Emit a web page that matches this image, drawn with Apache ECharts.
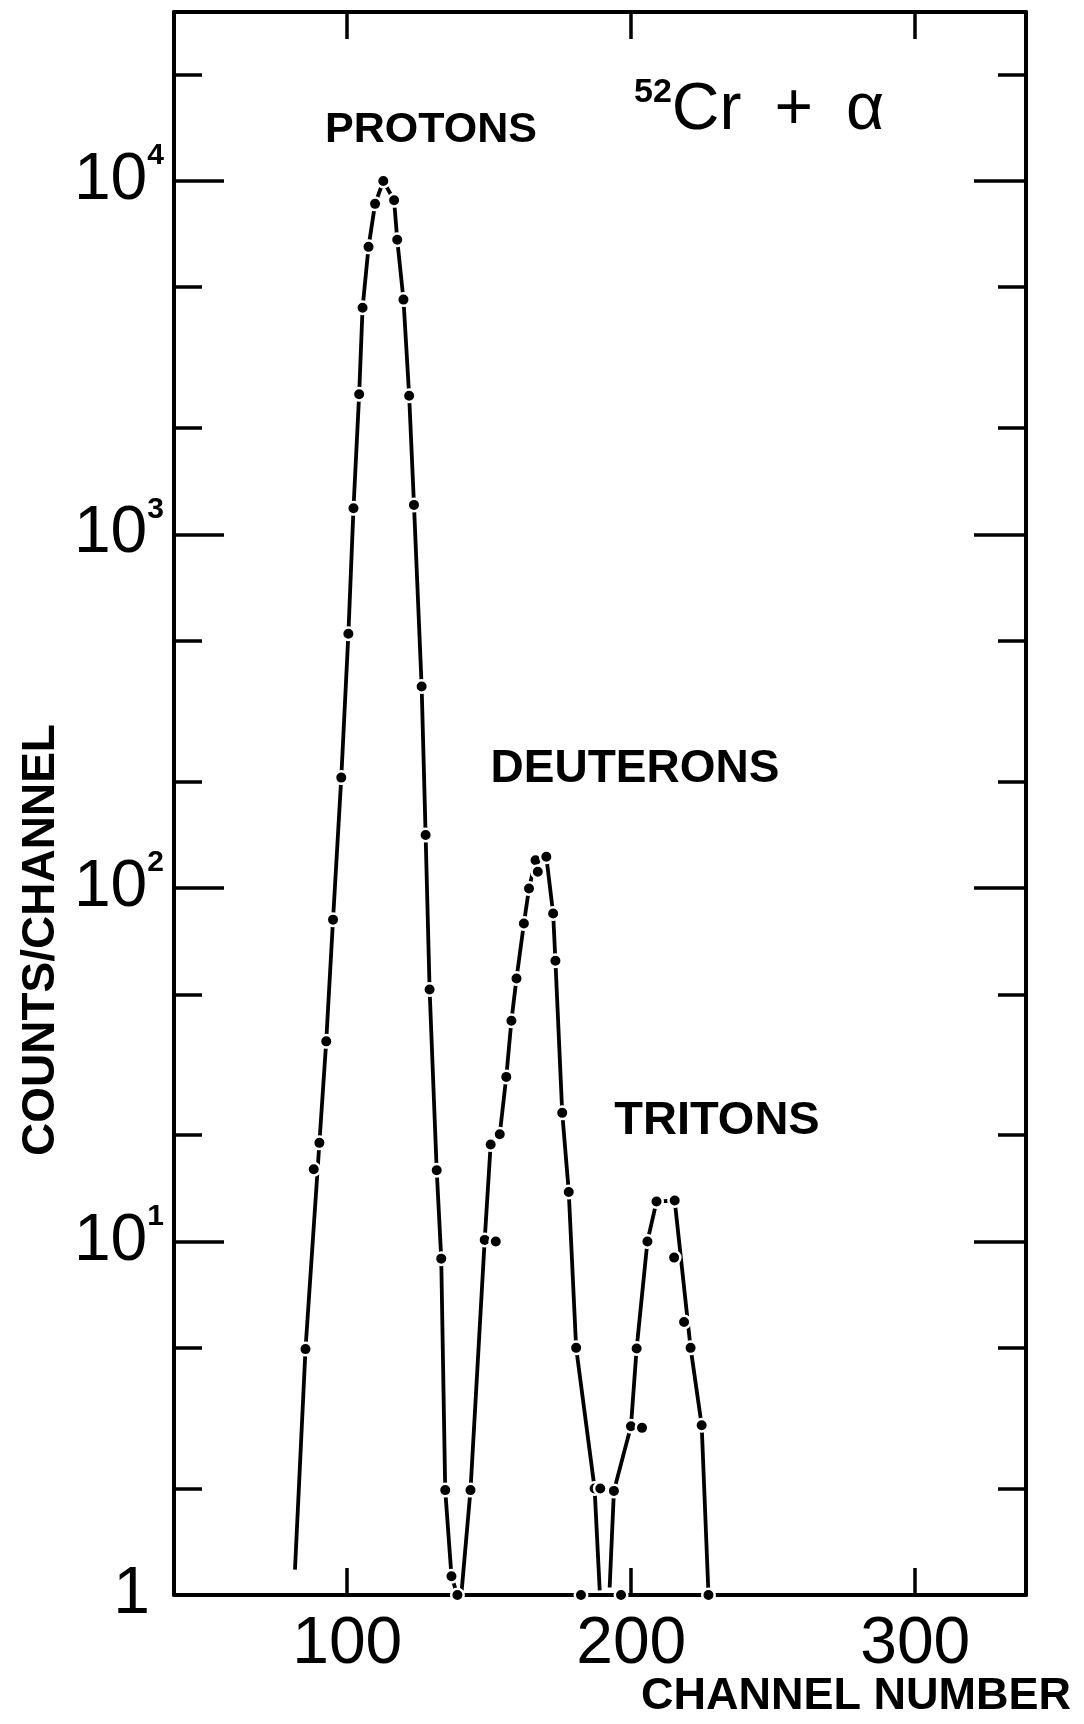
<!DOCTYPE html>
<html><head><meta charset="utf-8">
<script src="https://cdn.jsdelivr.net/npm/echarts@6/dist/echarts.min.js"></script>
<style>html,body{margin:0;padding:0;background:#fff}#c{width:1084px;height:1724px}</style>
</head><body><div id="c"></div>
<script>
// ---- data ----
const protonChannel = [81.6, 85.3, 90.2, 92.6, 95.0, 97.9, 100.4, 102.2, 104.2, 105.4, 107.5, 109.8, 112.7, 116.5, 117.6, 119.8, 121.8, 123.5, 126.2, 127.6, 129.0, 131.5, 133.1, 134.5, 136.7, 138.8];
const protonCounts  = [1.18, 4.96, 19.0, 36.8, 81.3, 205, 523, 1184, 2490, 4370, 6500, 8600, 9980, 8800, 6810, 4610, 2465, 1211, 371, 141, 51.6, 15.9, 8.94, 1.98, 1.13, 1.0];
const protonDotted  = [0, 1, 1, 1, 1, 1, 1, 1, 1, 1, 1, 1, 1, 1, 1, 1, 1, 1, 1, 1, 1, 1, 1, 1, 1, 1];

const deuteronChannel = [140.3, 143.4, 148.4, 150.5, 153.7, 156.0, 157.8, 159.6, 162.2, 164.0, 166.3, 170.1, 172.5, 173.3, 175.7, 178.0, 180.6, 187.1, 188.9];
const deuteronCounts  = [1.03, 1.98, 10.1, 18.8, 20.1, 29.2, 42.1, 55.4, 79.3, 99.6, 119.7, 122.4, 84.6, 62.2, 23.1, 13.8, 5.0, 2.0, 1.03];
const deuteronDotted  = [0, 1, 1, 1, 1, 1, 1, 1, 1, 1, 1, 1, 1, 1, 1, 1, 1, 1, 0];

const tritonChannel = [192.4, 193.9, 199.9, 201.9, 205.7, 208.9, 215.3, 220.9, 224.8, 227.2];
const tritonCounts  = [1.05, 1.97, 3.0, 4.98, 10.0, 12.97, 13.05, 5.0, 3.02, 1.0];
const tritonDotted  = [0, 1, 1, 1, 1, 1, 1, 1, 1, 1];

// points plotted off the drawn curves
const strayChannel = [88.2, 152.3, 167.1, 189.1, 203.8, 215.1, 218.6, 182.3, 196.4];
const strayCounts  = [16.0, 10.0, 111, 2.0, 2.97, 9.0, 5.92, 1.0, 1.0];

// ticks
const xTicks = [100, 200, 300];
const yMajor = [1, 10, 100, 1000, 10000];
const yMinor = [2, 5, 20, 50, 200, 500, 2000, 5000, 20000];

// ---- build ----
const zip = (xs, ys) => xs.map((x, i) => [x, ys[i]]);
const dotsOf = (xs, ys, flags) => xs.map((x, i) => flags[i] ? [x, ys[i]] : null).filter(Boolean);
const allDots = [].concat(
  dotsOf(protonChannel, protonCounts, protonDotted),
  dotsOf(deuteronChannel, deuteronCounts, deuteronDotted),
  dotsOf(tritonChannel, tritonCounts, tritonDotted),
  zip(strayChannel, strayCounts)
);

const FONT = 'Liberation Sans';
const black = '#000';
const lineSt = { color: black, width: 4 };

function xAx(pos, showLabel) {
  return {
    type: 'value', position: pos, min: 39, max: 339,
    axisLine: { show: true, onZero: false, lineStyle: lineSt },
    axisTick: { show: true, inside: true, length: 27, customValues: xTicks, lineStyle: { color: black, width: 3.5 } },
    axisLabel: { show: showLabel, customValues: xTicks, fontSize: 66, color: black, fontFamily: FONT, margin: 17 },
    splitLine: { show: false }
  };
}
function yAx(pos, ticks, len, showLine, showLabel) {
  return {
    type: 'log', logBase: 10, min: 1, max: 30000, position: pos,
    axisLine: { show: showLine, onZero: false, lineStyle: lineSt },
    axisTick: { show: true, inside: true, length: len, customValues: ticks, lineStyle: { color: black, width: 3.5 } },
    axisLabel: {
      show: showLabel, customValues: yMajor, margin: 10, color: black,
      formatter: v => v === 1 ? '{one|1}' : '{b|10}{s|' + Math.round(Math.log10(v)) + '}',
      rich: {
        one: { fontSize: 66, fontFamily: FONT, color: black, padding: [0, 14, 0, 0] },
        b: { fontSize: 66, fontFamily: FONT, color: black, lineHeight: 80 },
        s: { fontSize: 30, fontWeight: 'bold', fontFamily: FONT, color: black, verticalAlign: 'top', lineHeight: 30 }
      }
    },
    splitLine: { show: false }
  };
}

const lineSeries = (name, xs, ys) => ({
  name, type: 'line', data: zip(xs, ys), showSymbol: false, symbol: 'none',
  lineStyle: { color: black, width: 3.8 }, z: 2, clip: false, animation: false
});

const chart = echarts.init(document.getElementById('c'), null, { renderer: 'canvas' });
chart.setOption({
  backgroundColor: '#fff',
  animation: false,
  grid: { left: 174, right: 58, top: 12, bottom: 129, containLabel: false },
  xAxis: [xAx('bottom', true), xAx('top', false)],
  yAxis: [
    yAx('left', yMajor, 50, true, true),
    yAx('right', yMajor, 52, true, false),
    yAx('left', yMinor, 28, false, false),
    yAx('right', yMinor, 28, false, false)
  ],
  series: [
    lineSeries('Protons', protonChannel, protonCounts),
    lineSeries('Deuterons', deuteronChannel, deuteronCounts),
    lineSeries('Tritons', tritonChannel, tritonCounts),
    {
      name: 'points', type: 'scatter', data: allDots, symbol: 'circle', symbolSize: 12.5, clip: false, z: 3,
      itemStyle: { color: black, borderColor: '#fff', borderWidth: 2.5, opacity: 1 }
    }
  ],
  graphic: [
    { type: 'text', x: 431, y: 130, style: { text: 'PROTONS', font: 'bold 43px "Liberation Sans"', fill: black, align: 'center', verticalAlign: 'middle' } },
    { type: 'text', x: 635, y: 769, style: { text: 'DEUTERONS', font: 'bold 46px "Liberation Sans"', fill: black, align: 'center', verticalAlign: 'middle' } },
    { type: 'text', x: 717, y: 1121, style: { text: 'TRITONS', font: 'bold 47px "Liberation Sans"', fill: black, align: 'center', verticalAlign: 'middle' } },
    { type: 'text', x: 634, y: 66, style: {
        text: '{sup|52}{m|Cr\u2002+\u2002α}', fill: black,
        rich: {
          sup: { fontSize: 34, fontWeight: 'bold', fontFamily: FONT, fill: black, verticalAlign: 'top', lineHeight: 34, padding: [10, 0, 0, 0] },
          m: { fontSize: 66, fontFamily: FONT, fill: black, lineHeight: 70, verticalAlign: 'top', padding: [12, 0, 0, 0] }
        } } },
    { type: 'text', x: 41, y: 940, rotation: Math.PI / 2, style: { text: 'COUNTS/CHANNEL', font: 'bold 46px "Liberation Sans"', fill: black, align: 'center', verticalAlign: 'middle' } },
    { type: 'text', x: 856, y: 1697, style: { text: 'CHANNEL NUMBER', font: 'bold 45px "Liberation Sans"', fill: black, align: 'center', verticalAlign: 'middle' } }
  ]
});
</script></body></html>
